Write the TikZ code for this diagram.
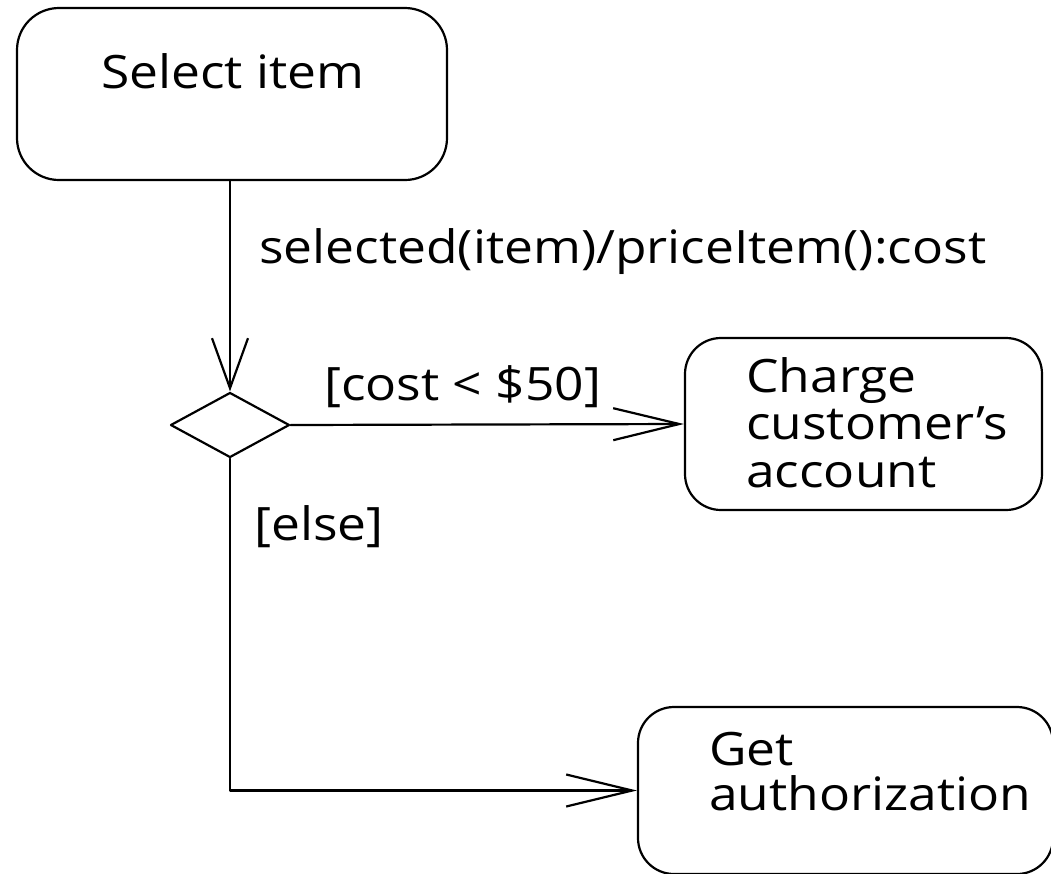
\documentclass[tikz,border=0pt]{standalone}
\usepackage{fontspec}
\setmainfont{Open Sans}
\usetikzlibrary{arrows.meta,shapes.geometric}

\begin{document}
\begin{tikzpicture}[x=0.5pt,y=-0.5pt,line join=round,line cap=round,line width=1.1pt,
		state/.style={draw,rounded corners=18pt,inner sep=0pt},
		txt/.style={anchor=base west,inner sep=0pt,xscale=1.12,font=\fontsize{23}{23.75}\selectfont,align=left},
		flow/.style={-{Straight Barb[length=33pt,width=16pt,line width=1.1pt]}}]
	\useasboundingbox (0,0) rectangle (1051,874);
	% boxes
	\node[state,minimum width=215pt,minimum height=86pt,rounded corners=21pt] (sel) at (232,94) {};
	\node[state,minimum width=178.5pt,minimum height=86pt] (chg) at (863.5,424) {};
	\node[state,minimum width=207.5pt,minimum height=83.5pt] (get) at (845.5,790.5) {};
	\node[draw,diamond,inner sep=0pt,minimum width=59.5pt,minimum height=32.5pt] (dia) at (230,425) {};
	% texts (base = last line)
	\node[txt] (selT) at (100,88) {Select item};
	\node[txt] (chgT) at (745,487) {Charge\\customer’s\\account};
	\node[txt,font=\fontsize{23}{22.5}\selectfont] (getT) at (708,810) {Get\\authorization};
	\node[txt] (evt) at (258,263) {selected(item)/priceItem():cost};
	\node[txt] (lo) at (323,400) {[cost < \$50]};
	\node[txt] (els) at (253,540) {[else]};
	% flows
	\draw[-{Straight Barb[length=25pt,width=18pt,line width=1.1pt]}] (dia.north |- sel.south) -- (dia.north);
	\draw[flow] (dia.east) -- (chg.west);
	\draw[flow] (dia.south) |- (get.west);
\end{tikzpicture}
\end{document}
